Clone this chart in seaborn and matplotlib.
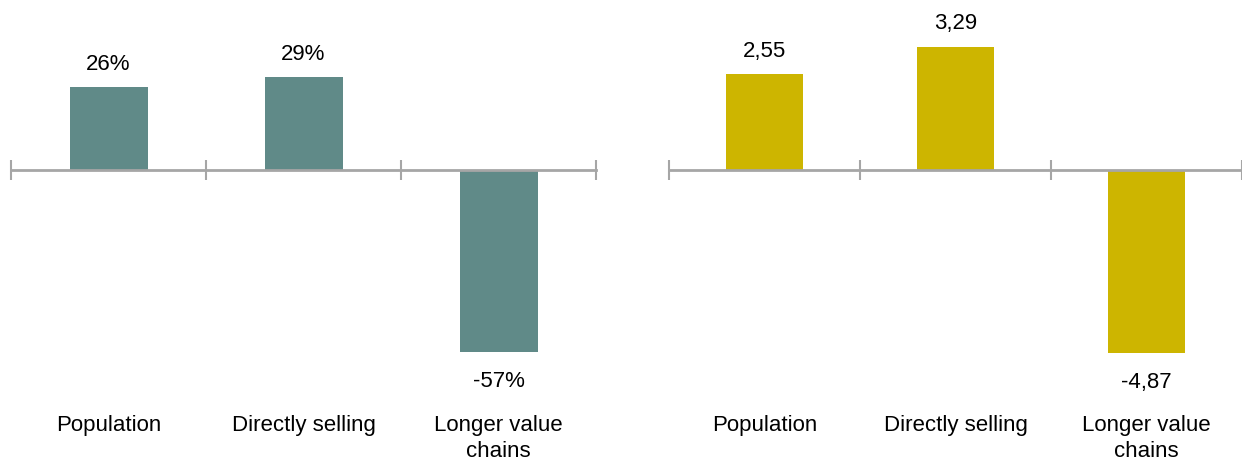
import matplotlib
matplotlib.use("Agg")
import matplotlib.pyplot as plt
from matplotlib import font_manager
import seaborn as sns
import pandas as pd

categories = ["Population", "Directly selling", "Longer value\nchains"]
left_values = [26, 29, -57]
right_values = [2.55, 3.29, -4.87]
left_labels = ["26%", "29%", "-57%"]
right_labels = ["2,55", "3,29", "-4,87"]

LEFT_COLOR = "#608A88"
RIGHT_COLOR = "#CDB500"
AXIS_COLOR = "#A6A6A6"

sns.set_theme(style="white")
names = {f.name for f in font_manager.fontManager.ttflist}
fam = "Liberation Sans Narrow" if "Liberation Sans Narrow" in names else "Liberation Sans"
plt.rcParams["font.family"] = [fam, "DejaVu Sans"]

W, H = 1242, 462
fig = plt.figure(figsize=(W / 100, H / 100), dpi=100)

def panel(x0, x1, scale, values, labels, color):
    ax = fig.add_axes([x0 / W, 0, (x1 - x0) / W, 1])
    df = pd.DataFrame({"cat": categories, "val": values})
    sns.barplot(data=df, x="cat", y="val", color=color, width=0.4,
                saturation=1, ax=ax, edgecolor="none")
    base = 170
    ax.set_ylim(-(H - base) / scale, base / scale)
    ax.set_xlim(-0.5, 2.5)
    for s in ["top", "right", "left"]:
        ax.spines[s].set_visible(False)
    ax.spines["bottom"].set_position(("data", 0))
    ax.spines["bottom"].set_color(AXIS_COLOR)
    ax.spines["bottom"].set_linewidth(2)
    ax.set_xticks([-0.5, 0.5, 1.5, 2.5])
    ax.set_xticklabels([])
    ax.tick_params(axis="x", direction="inout", length=14, width=1.5,
                   color=AXIS_COLOR, bottom=True)
    ax.set_yticks([])
    ax.set_xlabel("")
    ax.set_ylabel("")
    ax.patch.set_alpha(0)
    for i, (v, lab) in enumerate(zip(values, labels)):
        off = 23 if v > 0 else -30
        ax.annotate(lab, (i, v), xytext=(0, off), textcoords="offset pixels",
                    ha="center", va="center", fontsize=16, color="#000000")
    for i, c in enumerate(categories):
        ax.text(i, 1 - 415 / H, c, transform=ax.get_xaxis_transform(),
                ha="center", va="top", fontsize=16, color="#000000",
                linespacing=1.3)
    return ax

panel(11, 596, 3.19, left_values, left_labels, LEFT_COLOR)
panel(669, 1242, 37.5, right_values, right_labels, RIGHT_COLOR)

fig.savefig("out.png", dpi=100)
